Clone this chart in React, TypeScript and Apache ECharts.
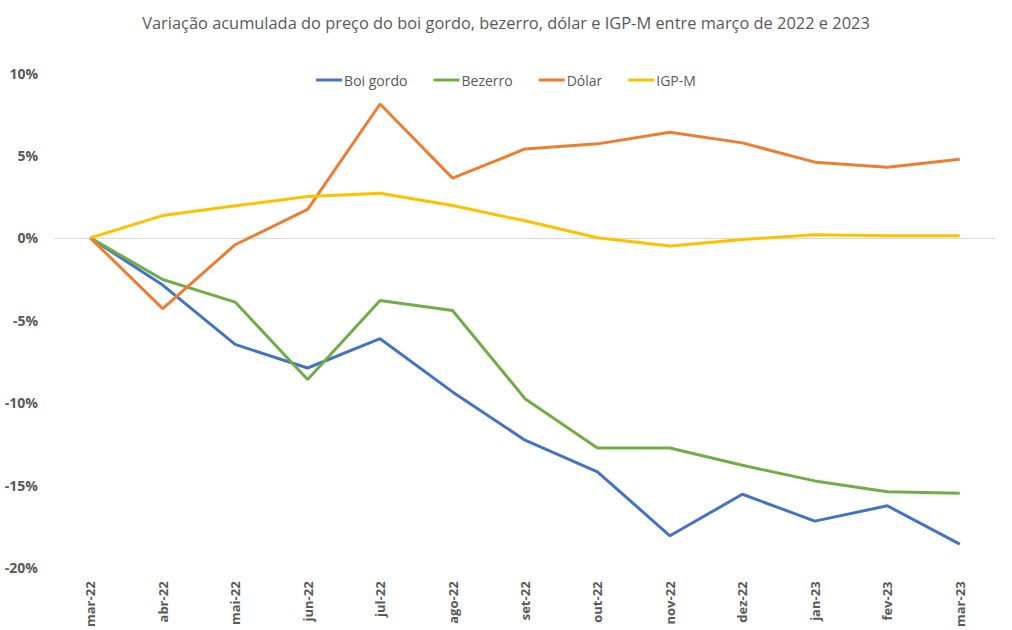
import React, { useEffect, useRef } from "react";
import * as echarts from "echarts";

const categories = [
  "mar-22", "abr-22", "mai-22", "jun-22", "jul-22", "ago-22", "set-22",
  "out-22", "nov-22", "dez-22", "jan-23", "fev-23", "mar-23",
];

const boiGordo = [0, -2.87, -6.47, -7.9, -6.12, -9.35, -12.28, -14.2, -18.08, -15.56, -17.19, -16.26, -18.59];
const bezerro = [0, -2.53, -3.9, -8.6, -3.8, -4.41, -9.76, -12.75, -12.75, -13.8, -14.75, -15.41, -15.5];
const dolar = [0, -4.3, -0.42, 1.72, 8.12, 3.62, 5.39, 5.7, 6.41, 5.76, 4.59, 4.28, 4.77];
const igpm = [0, 1.35, 1.94, 2.5, 2.71, 1.96, 1.03, 0.0, -0.5, -0.1, 0.18, 0.12, 0.12];

const seriesNames = ["Boi gordo", "Bezerro", "Dólar", "IGP-M"];
const seriesColors = ["#4472C4", "#70AD47", "#ED7D31", "#FFC000"];
const seriesData = [boiGordo, bezerro, dolar, igpm];

const titleText = "Variação acumulada do preço do boi gordo, bezerro, dólar e IGP-M entre março de 2022 e 2023";

export default function App() {
  const ref = useRef<HTMLDivElement>(null);
  useEffect(() => {
    if (!ref.current) return;
    const chart = echarts.init(ref.current, null, { renderer: "svg" });
    const font = "'Open Sans', sans-serif";
    chart.setOption({
      animation: false,
      backgroundColor: "#ffffff",
      title: {
        text: titleText,
        left: "center",
        top: 9,
        textStyle: { fontFamily: font, fontSize: 16.4, fontWeight: "normal", color: "#595959" },
      },
      legend: {
        top: 68,
        left: "center",
        icon: "rect",
        itemWidth: 26,
        itemHeight: 3,
        itemGap: 26,
        textStyle: { fontFamily: font, fontSize: 14, color: "#595959", padding: [0, 0, 0, -3] },
        data: seriesNames,
      },
      grid: { left: 54, right: 16, top: 73, bottom: 62, containLabel: false },
      xAxis: {
        type: "category",
        data: categories,
        boundaryGap: true,
        axisLine: { show: false },
        axisTick: { show: false },
        axisLabel: {
          rotate: 90,
          margin: 14,
          fontFamily: font,
          fontSize: 13,
          fontWeight: "bold",
          color: "#595959",
        },
      },
      yAxis: {
        type: "value",
        min: -20,
        max: 10,
        interval: 5,
        axisLine: { show: false },
        axisTick: { show: false },
        splitLine: { show: false },
        axisLabel: {
          formatter: "{value}%",
          margin: 16,
          fontFamily: font,
          fontSize: 14,
          fontWeight: "bold",
          color: "#595959",
        },
      },
      series: seriesData.map((d, i) => ({
        name: seriesNames[i],
        type: "line",
        data: d,
        symbol: "none",
        lineStyle: { width: 3, color: seriesColors[i] },
        itemStyle: { color: seriesColors[i] },
        z: 2 + i,
        markLine: i === 0 ? {
          silent: true,
          symbol: "none",
          label: { show: false },
          lineStyle: { color: "#D9D9D9", width: 1, type: "solid" },
          data: [{ yAxis: 0 }],
          z: 1,
        } : undefined,
      })),
    });
    return () => chart.dispose();
  }, []);
  return <div ref={ref} style={{ width: 1012, height: 630, position: "absolute", left: 0, top: 0 }} />;
}
